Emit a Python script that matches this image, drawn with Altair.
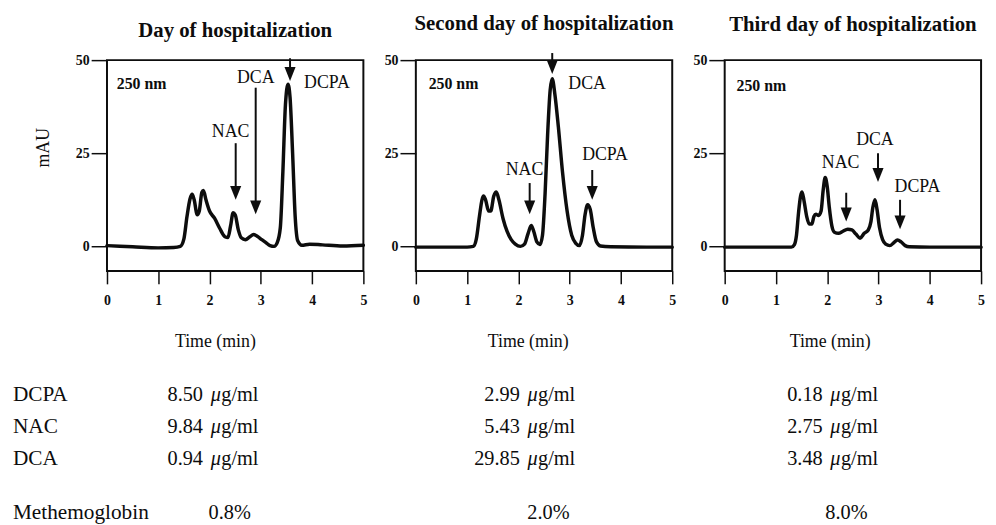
import altair as alt
import pandas as pd

FONT = "Liberation Serif"
INK = "#0d0d0d"

PANEL_TITLES = ["Day of hospitalization", "Second day of hospitalization", "Third day of hospitalization"]
TIME_TICKS = [0, 1, 2, 3, 4, 5]
MAU_TICKS = [0, 25, 50]

# chromatogram traces (time in min, absorbance in mAU)
T1 = [0.00, 0.50, 1.00, 1.30, 1.43, 1.50, 1.56, 1.62, 1.66, 1.70, 1.76, 1.80, 1.85, 1.88, 1.93, 2.00,
      2.10, 2.20, 2.30, 2.36, 2.41, 2.46, 2.50, 2.56, 2.62, 2.70, 2.78, 2.86, 2.93, 3.02, 3.10, 3.18,
      3.26, 3.32, 3.38, 3.43, 3.48, 3.53, 3.57, 3.62, 3.67, 3.72, 3.80, 3.95, 4.20, 4.60, 5.00]
A1 = [0.2, -0.1, -0.4, -0.3, 0.0, 2.0, 8.0, 12.8, 14.0, 12.5, 8.5, 9.5, 14.5, 15.0, 12.5, 9.5,
      7.5, 4.8, 2.6, 2.4, 5.5, 9.0, 8.5, 4.5, 2.3, 1.8, 2.5, 3.2, 2.7, 1.8, 1.0, 0.2,
      0.0, 1.0, 5.0, 20.0, 38.0, 43.5, 40.0, 25.0, 8.0, 1.5, 0.3, 0.6, 0.4, 0.1, 0.3]

T2 = [0.00, 0.50, 1.00, 1.12, 1.18, 1.24, 1.29, 1.32, 1.36, 1.42, 1.46, 1.52, 1.57, 1.62, 1.70, 1.78,
      1.86, 1.94, 2.04, 2.12, 2.19, 2.25, 2.30, 2.36, 2.42, 2.47, 2.52, 2.57, 2.62, 2.66, 2.71, 2.78,
      2.86, 2.95, 3.04, 3.12, 3.19, 3.25, 3.30, 3.35, 3.40, 3.46, 3.52, 3.60, 3.80, 4.50, 5.00]
A2 = [-0.2, -0.2, -0.2, 0.0, 2.0, 8.0, 12.5, 13.5, 12.5, 9.5, 9.5, 13.5, 14.6, 12.5, 7.5, 4.0,
      1.8, 0.6, 0.0, 0.6, 3.5, 5.6, 4.0, 1.2, 0.5, 3.0, 14.0, 30.0, 42.0, 45.0, 41.0, 32.0,
      20.0, 9.5, 3.0, 0.8, 0.2, 3.0, 8.5, 11.2, 10.0, 5.0, 1.3, 0.1, -0.1, -0.2, -0.2]

T3 = [0.00, 0.80, 1.30, 1.36, 1.40, 1.44, 1.48, 1.51, 1.55, 1.60, 1.65, 1.70, 1.74, 1.78, 1.83, 1.88,
      1.92, 1.96, 2.00, 2.04, 2.09, 2.14, 2.22, 2.30, 2.40, 2.48, 2.56, 2.64, 2.72, 2.80, 2.85, 2.89,
      2.93, 2.97, 3.02, 3.08, 3.14, 3.22, 3.30, 3.37, 3.44, 3.52, 3.60, 4.00, 5.00]
A3 = [-0.2, -0.2, -0.2, 0.5, 3.0, 9.0, 13.5, 14.6, 12.0, 8.0, 6.0, 6.0, 8.0, 8.6, 8.3, 9.5,
      15.0, 18.5, 16.0, 10.5, 5.5, 3.8, 3.5, 4.0, 4.6, 4.4, 3.3, 2.2, 3.5, 4.4, 6.5, 10.5,
      12.5, 10.0, 5.0, 1.8, 0.6, 0.2, 1.0, 1.7, 1.2, 0.2, -0.1, -0.2, -0.2]

TRACES = [(T1, A1), (T2, A2), (T3, A3)]

# peak annotations (per panel, in the order of COMPOUNDS)
COMPOUNDS = ["NAC", "DCA", "DCPA"]
ARROW_X = [[2.51, 2.90, 3.57], [2.22, 2.66, 3.44], [2.37, 2.99, 3.42]]
ARROW_TAIL = [[27.7, 42.6, 50.5], [17.0, 51.9, 20.5], [14.4, 25.0, 12.5]]
ARROW_TIP = [[12.5, 8.6, 44.4], [8.6, 46.3, 12.5], [6.7, 17.3, 4.6]]
LABEL_X = [[2.41, 2.90, 4.29], [2.12, 3.34, 3.69], [2.26, 2.93, 3.76]]
LABEL_Y = [[30.6, 45.2, 43.9], [20.5, 43.6, 24.5], [22.4, 28.5, 16.0]]

WAVELENGTH = "250 nm"
WAVE_X = [0.19, 0.25, 0.23]
WAVE_Y = [43.6, 43.6, 43.1]

# table below the chromatograms
TABLE_ROWS = ["DCPA", "NAC", "DCA"]
CONC = [["8.50", "9.84", "0.94"], ["2.99", "5.43", "29.85"], ["0.18", "2.75", "3.48"]]
UNIT_MU = "μ"
UNIT_REST = "g/ml"
METHB_LABEL = "Methemoglobin"
METHB = ["0.8%", "2.0%", "8.0%"]

# ---------- layout (pixels, relative to each panel's plot area) ----------
W, H, GAP = 259, 213, 53
TITLE_PY = [-29, -36.5, -35.5]
ROW_PY = [338, 371, 403]
METHB_PY = 458
LABEL_PX = -95
VALUE_RIGHT = [153, 161, 155]
METHB_CENTER = [124, 134, 123]
XTITLE_X = [109, 113, 106]
SHAFT_GAP = 1.6  # mAU between tip and end of the shaft


def txt(s, x, y, size=20, align="left", style="normal", weight="normal"):
    return alt.Chart(pd.DataFrame({"s": [s]})).mark_text(
        font=FONT, fontSize=size, align=align, baseline="middle", color=INK,
        fontStyle=style, fontWeight=weight
    ).encode(x=alt.value(x), y=alt.value(y), text="s:N")


def panel(i):
    xs = alt.Scale(domain=[0, 5], nice=False, zero=False)
    ys = alt.Scale(domain=[-6.6, 50], nice=False, zero=False)
    xax = alt.Axis(values=TIME_TICKS, format="d", domain=False, grid=False, tickSize=13, tickWidth=1.5,
                   tickColor=INK, labelFont=FONT, labelFontSize=14, labelFontWeight="bold", labelColor=INK,
                   labelPadding=17, labelBaseline="middle", labelFlush=False,
                   titleFont=FONT, titleFontSize=18, titleFontWeight="normal", titleColor=INK,
                   titleX=XTITLE_X[i], titleY=71, titleBaseline="middle", titleAlign="center")
    ykw = dict(values=MAU_TICKS, domain=False, grid=False, tickSize=16, tickWidth=1.5, tickColor=INK,
               labelFont=FONT, labelFontSize=14, labelFontWeight="bold", labelColor=INK, labelPadding=2,
               labelFlush=False)
    if i == 0:
        ykw.update(titleFont=FONT, titleFontSize=18, titleFontWeight="normal", titleColor=INK,
                   titleX=-64, titleY=88, titleAngle=270, titleBaseline="middle", titleAlign="center")
    yax = alt.Axis(**ykw)
    ytitle = "mAU" if i == 0 else ""

    t, a = TRACES[i]
    trace = alt.Chart(pd.DataFrame({"t": t, "a": a})).mark_line(
        interpolate="monotone", strokeWidth=3.5, color=INK, strokeJoin="round", strokeCap="round"
    ).encode(x=alt.X("t:Q", scale=xs, axis=xax, title="Time (min)"),
             y=alt.Y("a:Q", scale=ys, axis=yax, title=ytitle))

    ann = pd.DataFrame({
        "c": COMPOUNDS, "x": ARROW_X[i], "tail": ARROW_TAIL[i], "tip": ARROW_TIP[i],
        "lx": LABEL_X[i], "ly": LABEL_Y[i],
    })
    ann["shaft_end"] = ann["tip"] + SHAFT_GAP
    shafts = alt.Chart(ann).mark_rule(strokeWidth=2, color=INK).encode(
        x="x:Q", y="tail:Q", y2="shaft_end:Q")
    heads = alt.Chart(ann).mark_point(
        shape="M-0.8,-1L0.8,-1L0,1Z", filled=True, size=196, yOffset=-7, color=INK, opacity=1,
        strokeWidth=0
    ).encode(x="x:Q", y="tip:Q")
    labels = alt.Chart(ann).mark_text(font=FONT, fontSize=18, color=INK, align="center",
                                      baseline="middle").encode(x="lx:Q", y="ly:Q", text="c:N")
    wave = alt.Chart(pd.DataFrame({"x": [WAVE_X[i]], "y": [WAVE_Y[i]], "s": [WAVELENGTH]})).mark_text(
        font=FONT, fontSize=16, fontWeight="bold", color=INK, align="left", baseline="middle"
    ).encode(x="x:Q", y="y:Q", text="s:N")

    layers = [trace, shafts, heads, labels, wave,
              txt(PANEL_TITLES[i], W / 2, TITLE_PY[i], size=21, align="center", weight="bold")]

    # table text
    r = VALUE_RIGHT[i]
    for k, row in enumerate(TABLE_ROWS):
        py = ROW_PY[k]
        if i == 0:
            layers.append(txt(row, LABEL_PX, py, size=21.5))
        layers.append(txt(CONC[i][k], r - 56, py, size=20.5, align="right"))
        layers.append(txt(UNIT_MU, r - 38, py, size=20.5, align="right", style="italic"))
        layers.append(txt(UNIT_REST, r, py, size=20.5, align="right"))
    if i == 0:
        layers.append(txt(METHB_LABEL, LABEL_PX, METHB_PY, size=21.5))
    layers.append(txt(METHB[i], METHB_CENTER[i], METHB_PY, size=20.5, align="center"))

    return alt.layer(*layers).properties(width=W, height=H)


chart = alt.hconcat(panel(0), panel(1), panel(2), spacing=GAP, bounds="flush").properties(
    padding={"left": 4, "top": 1, "right": 2, "bottom": 0}, background="white"
).configure_view(stroke=INK, strokeWidth=2)

chart.save("out.html", embed_options={"renderer": "svg", "actions": False})
